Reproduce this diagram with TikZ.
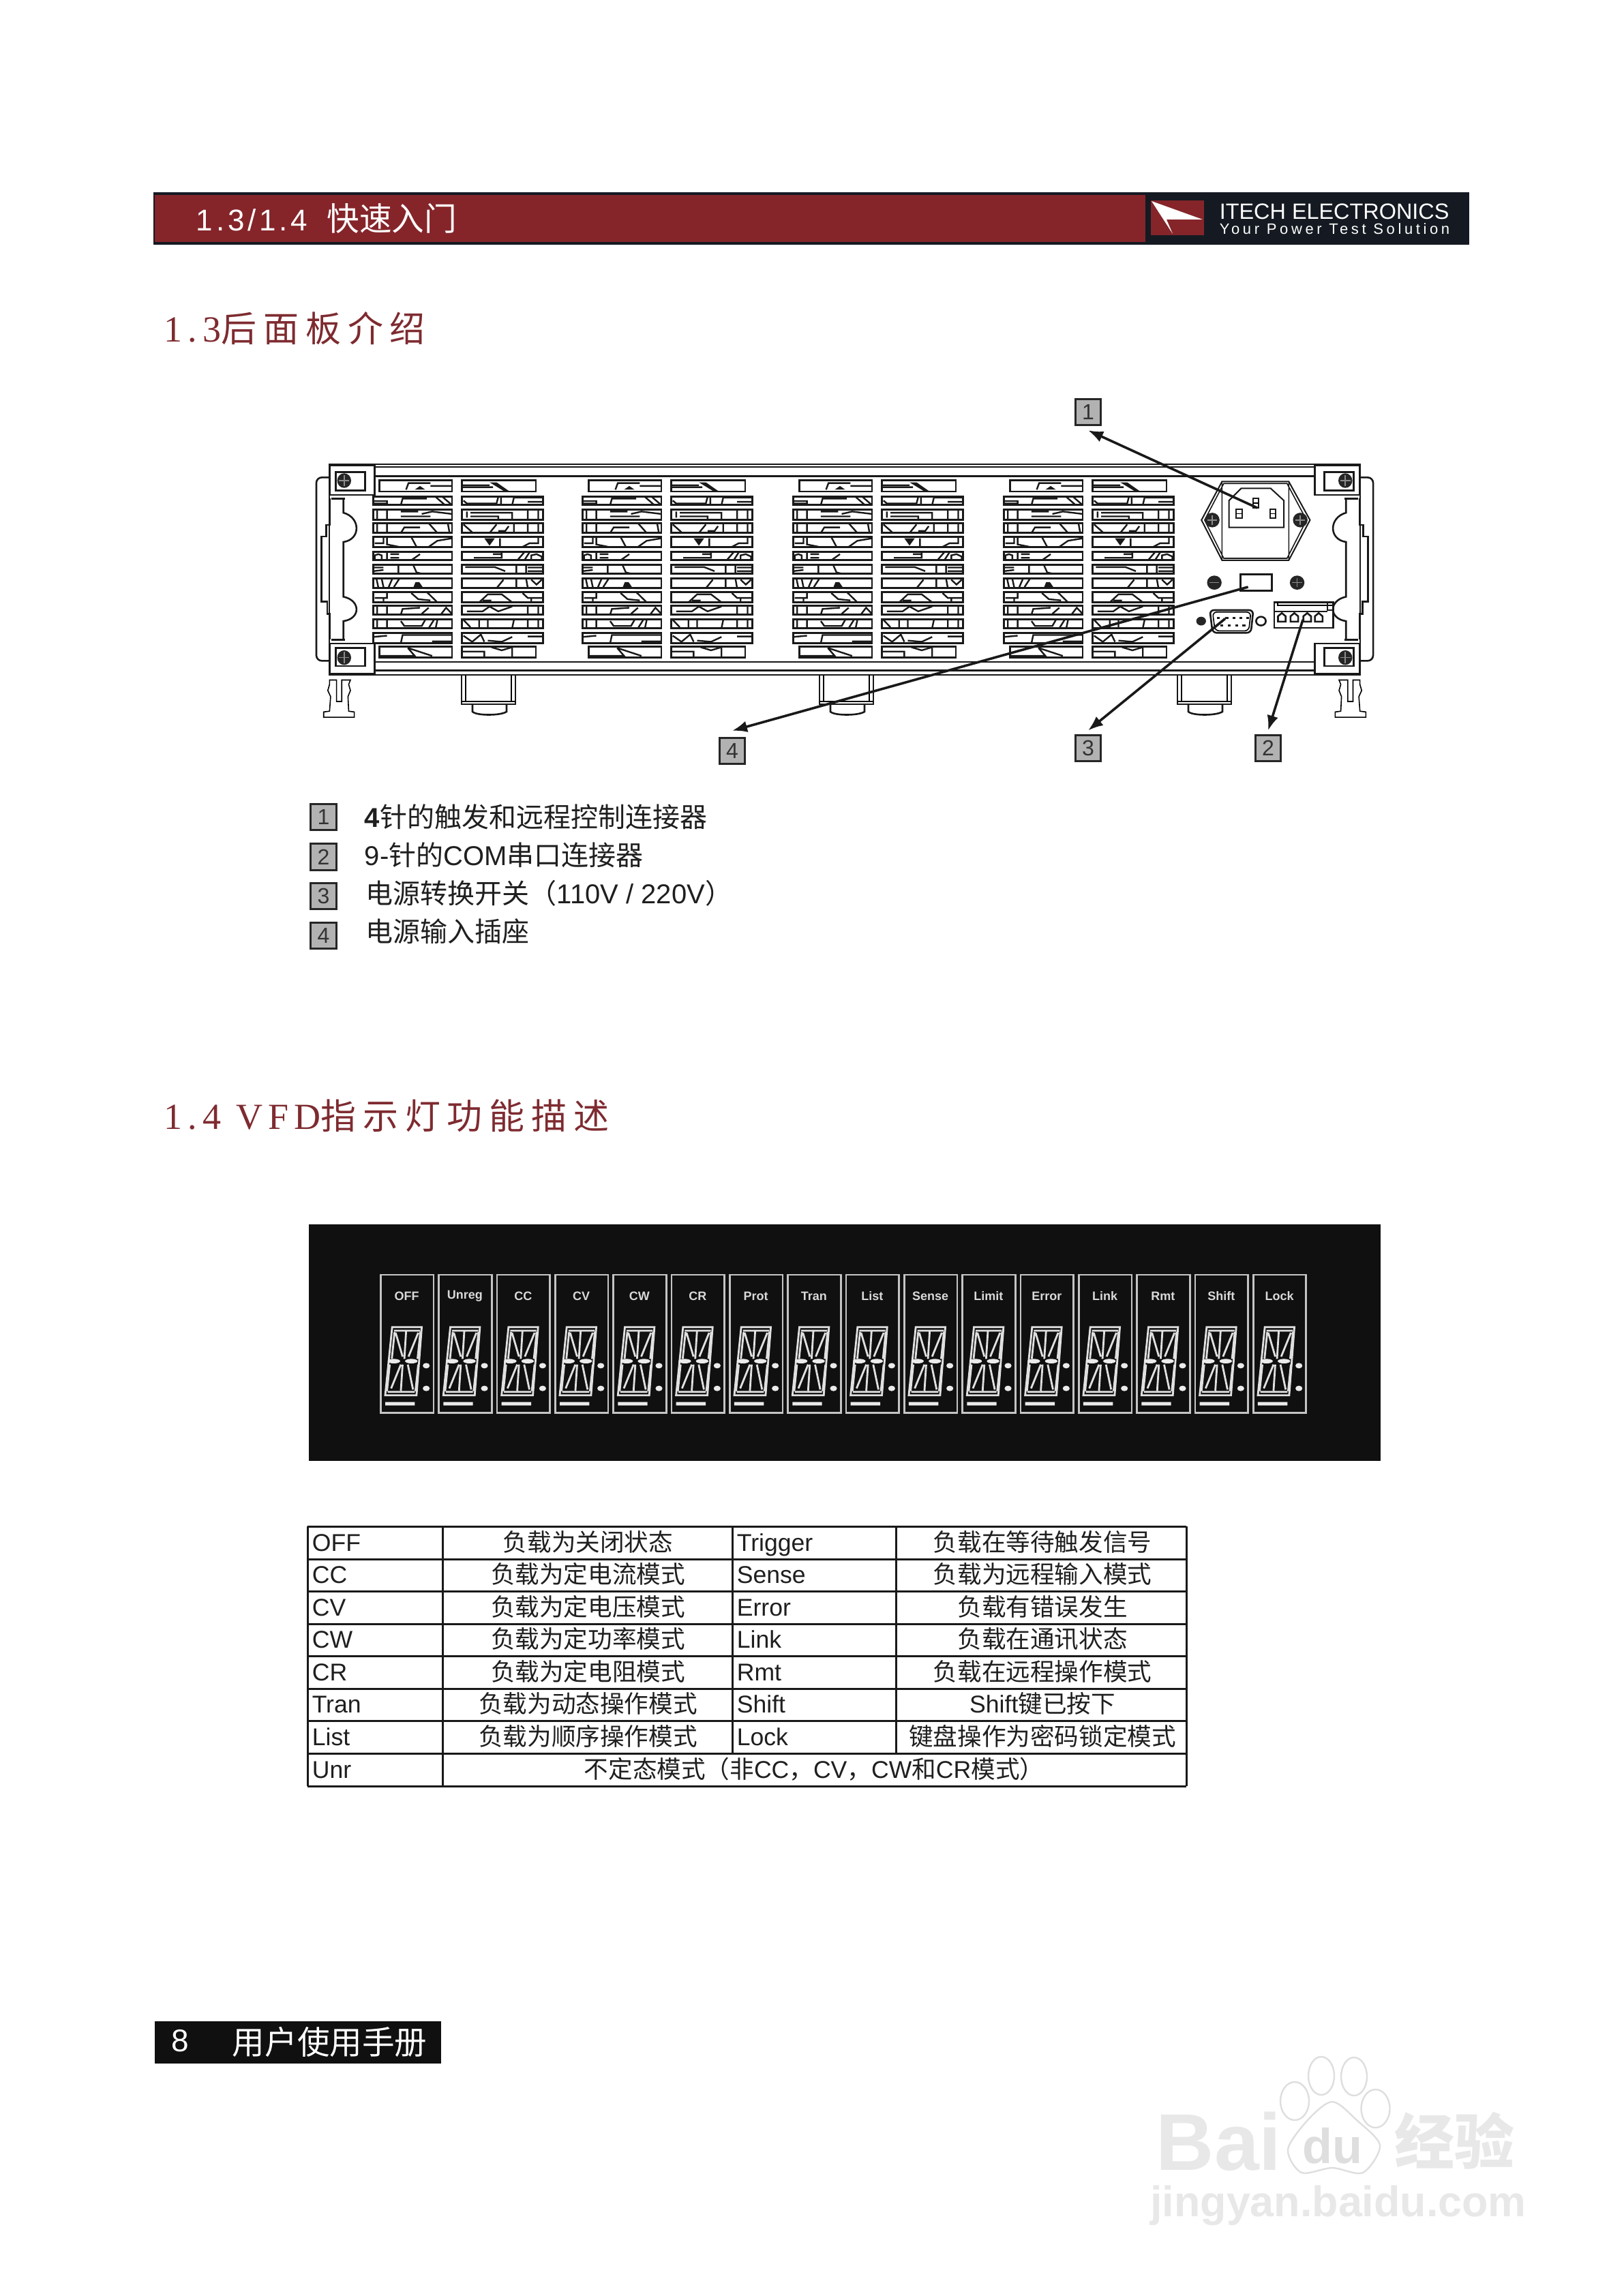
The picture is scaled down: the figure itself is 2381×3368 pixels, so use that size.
\documentclass[tikz,border=0pt]{standalone}
\usepackage{fontspec}
\usetikzlibrary{arrows.meta}
\setmainfont{Liberation Sans}
\newfontfamily\cjk{Noto Sans CJK SC}
\newfontfamily\cjktitle[LetterSpace=19]{Noto Sans CJK SC}
\newfontfamily\sertitle[LetterSpace=15]{Liberation Serif}
\newfontfamily\hdrlat[LetterSpace=11]{Liberation Sans}
\newfontfamily\sloganlat[LetterSpace=21]{Liberation Sans}
\newcommand\zh[1]{{\cjk #1}}
\definecolor{itechred}{HTML}{85252A}
\definecolor{itechdark}{HTML}{151A22}
\definecolor{titlered}{HTML}{7E2B30}
\definecolor{vfdblack}{HTML}{101010}
\definecolor{vfdgray}{HTML}{C4C4C4}
\definecolor{keygray}{HTML}{B2B2B2}
\definecolor{wmgray}{HTML}{E8E8E8}
\definecolor{wmline}{HTML}{DEDEDE}
\tikzset{
  zp/.style={x=0.12755pt,y=-0.08929pt},
  zv/.style={x=0.12755pt,y=-0.08333pt},
  numbox/.style={draw=black!85,fill=keygray,line width=.8pt,inner sep=0pt,minimum width=9.4pt,minimum height=9.6pt,font=\fontsize{8}{9}\selectfont,text=black!80},
  sectitle/.style={anchor=west,inner sep=0pt,text=titlered,font=\fontsize{13.5}{15}\selectfont},
  keytext/.style={anchor=west,inner sep=0pt,text=black!88,font=\fontsize{10}{12}\selectfont},
  cellleft/.style={anchor=west,inner sep=0pt,text=black!88,text height=7pt,text depth=2pt,font=\fontsize{8.9}{10}\selectfont},
  cellmid/.style={inner sep=0pt,text=black!88,text height=7pt,text depth=2pt,font=\fontsize{8.9}{10}\selectfont},
  arr/.style={-{Latex[length=5.5pt,width=4.2pt]},line width=.9pt,black!90},
  thin/.style={line width=.4pt},
  panel/.style={line width=.65pt,black!90},
  blade/.style={line width=.6pt,black!90},
  slat/.style={line width=.7pt,black!90},
  tline/.style={line width=.75pt,black!90},
  segline/.style={line width=.7pt,white!88!black},
  vfdlabel/.style={inner sep=0pt,text=white!85!black,font=\bfseries\fontsize{4.5}{5}\selectfont},
  wmtext/.style={inner sep=0pt,text=wmgray},
  wmpaw/.style={fill=white,draw=wmline,line width=.6pt},
}
\newcommand\fanblades{
  \draw[blade] (305,415)--(312,388)--(375,388) (375,400)--(437,400) (465,397)--(545,397) (465,405)--(555,405)
    (210,462)--(250,462)--(250,472)--(210,472) (290,478)--(295,452)--(365,452) (390,445)--(415,476) (410,445)--(435,476)
    (470,460)--(480,472)--(565,472)--(570,445) (578,445)--(578,478) (610,478)--(615,448)--(698,448) (655,465)--(698,465)
    (222,497)--(222,538) (250,497)--(250,538) (290,505)--(340,505) (290,525)--(375,525) (350,515)--(380,505)--(437,515)
    (480,505)--(480,530) (490,510)--(610,510)--(610,538) (490,525)--(570,525)--(570,538) (655,497)--(655,538) (685,497)--(685,538)
    (222,553)--(222,593) (250,553)--(250,593) (290,593)--(300,570)--(345,570) (370,553)--(395,593) (425,553)--(430,593)
    (470,558)--(495,590) (545,593)--(565,558) (600,565)--(590,585)--(570,585) (615,553)--(615,593) (655,553)--(655,593) (685,553)--(685,593)
    (215,635)--(240,635)--(240,612) (250,612)--(250,640)--(285,650) (320,610)--(335,650) (370,650)--(395,625)--(437,615)
    (575,615)--(575,650) (640,650)--(660,635)--(685,635)--(685,610)
    (215,700)--(215,685)--(225,680)--(235,685)--(235,705) (250,670)--(250,705) (260,680)--(285,680) (260,695)--(285,695) (320,705)--(345,680)
    (500,695)--(580,695)--(580,670) (555,680)--(580,680) (625,705)--(645,672) (645,705)--(660,672) (665,705)--(665,685)--(680,680)--(695,690)--(695,705)
    (210,735)--(240,735) (210,750)--(240,745) (283,723)--(283,760) (325,723)--(335,755)--(350,760)
    (475,733)--(560,733)--(590,750) (622,723)--(622,760) (650,723)--(650,760) (655,735)--(698,735) (655,750)--(698,750)
    (220,782)--(225,815) (235,782)--(240,815) (255,815)--(265,782) (270,815)--(285,782) (360,820)--(437,820)
    (565,820)--(585,785) (622,780)--(622,820) (650,780)--(655,820) (665,785)--(680,805)--(695,785)
    (215,860)--(250,860)--(250,840) (240,878)--(240,860) (320,840)--(340,865)--(375,870) (365,836)--(395,878)
    (515,878)--(540,845)--(580,845)--(610,878) (525,870)--(550,870) (640,840)--(655,860)--(698,860) (665,860)--(665,878)
    (222,892)--(222,928) (250,892)--(250,928) (290,928)--(295,905)--(345,900) (350,925)--(370,900) (405,928)--(420,900)--(437,925)
    (480,915)--(525,915)--(545,895)--(570,915)--(610,895) (655,892)--(655,928) (685,892)--(685,928)
    (222,948)--(222,984) (250,948)--(250,984) (290,955)--(300,975)--(350,975)--(360,950) (370,984)--(385,950) (390,984)--(395,950)
    (470,950)--(490,980) (515,950)--(515,984) (540,950)--(540,984) (610,984)--(615,950) (655,948)--(655,984) (685,948)--(685,984)
    (210,1020)--(250,1015) (290,1045)--(295,1012)--(437,1012) (380,1038)--(437,1038)
    (470,1015)--(495,1040)--(520,1010)--(530,1040) (540,1035)--(580,1040)--(610,1020) (655,1018)--(698,1018)
    (228,1098)--(330,1098)--(310,1065) (310,1065)--(380,1098)
    (465,1080)--(530,1080)--(530,1105) (550,1062)--(580,1075)--(610,1062) (610,1062)--(610,1105);
  \fill[black!90] (330,415)--(345,400)--(360,415)--cycle (545,385)--(565,385)--(600,420)--(585,420)--cycle (530,615)--(560,615)--(545,645)--cycle
    (325,820)--(332,795)--(343,795)--(355,820)--cycle (380,1036)--(437,1036)--(437,1045)--(380,1045)--cycle;
}
\newcommand\vfddigit{
  \draw[segline] (265,500)--(350,500)--(335,800)--(245,800)--cycle (270,516)--(345,516) (252,785)--(330,785)
    (272,522)--(264,640) (346,522)--(338,640) (258,665)--(250,782) (340,665)--(332,782)
    (275,525)--(295,630) (340,525)--(312,630) (305,520)--(300,640)
    (290,665)--(262,770) (310,665)--(325,775) (295,665)--(290,780);
  \fill[white!92!black] (270,650) ellipse [x radius=18,y radius=10] (320,650) ellipse [x radius=18,y radius=10]
    (363,670) circle [x radius=10,y radius=12] (363,770) circle [x radius=10,y radius=12]
    (245,830) rectangle (330,845);
}
\begin{document}
\begin{tikzpicture}[x=0.25pt,y=-0.25pt]
  \useasboundingbox (0,0) rectangle (2381,3368);

  \fill[itechdark] (225,282) rectangle (2155,359);
  \fill[itechred] (227,286) rectangle (1680,355);
  \fill[itechred] (1688,294) rectangle (1766,345);
  \fill[white] (1689,295)--(1764,322)--(1711,322)--(1720,343)--cycle;
  \node[anchor=west,inner sep=0pt,text=white,font=\fontsize{11}{12}\selectfont] (hdrtitle) at (287,320) {{\hdrlat 1.3/1.4}\hspace{7pt}{\cjk\fontsize{11.9}{12}\selectfont 快速入门}};
  \node[anchor=west,inner sep=0pt,text=white,font=\fontsize{8.1}{9}\selectfont] (hdrbrand) at (1788,310) {ITECH ELECTRONICS};
  \node[anchor=west,inner sep=0pt,text=white,font=\fontsize{5.5}{6}\selectfont] (hdrslogan) at (1788,336) {{\sloganlat Your Power Test Solution}};

  \node[sectitle] (sec13) at (240,482) {{\sertitle 1.3}{\cjktitle\fontsize{13}{15}\selectfont 后面板介绍}};

  \foreach \g in {0,307,616,925} {
    \begin{scope}[shift={(440+\g,570)},zp]
      \foreach \a/\b in {443/478,497/538,553/593,610/650,670/705,723/760,780/820,836/878,892/928,948/984,1003/1045} {
        \draw[slat] (210,\a) rectangle (437,\b);
        \draw[slat] (465,\a) rectangle (698,\b);
      }
      \foreach \a/\b in {377/423,1060/1105} {
        \draw[slat] (228,\a) rectangle (437,\b);
        \draw[slat] (465,\a) rectangle (678,\b);
      }
      \fanblades
    \end{scope}
  }

  \draw[panel] (483,681) rectangle (1995,990);
  \draw[panel] (483,685) -- (1995,685) (483,698.5) -- (1995,698.5) (483,971) -- (1995,971) (483,983.5) -- (1995,983.5);

  \foreach \ox/\sc in {440/1,2038/-1} {
    \begin{scope}[shift={(\ox,570)},xscale=\sc,zp]
      \draw[panel,fill=white] (85,315) rectangle (215,437);
      \draw[panel,fill=white] (103,343) rectangle (187,418);
      \fill[black!85] (127,378) ellipse [x radius=20,y radius=30];
      \draw[black!45,thin] (112,378) -- (142,378) (127,355) -- (127,400);
      \draw[panel,fill=white] (85,1047) rectangle (215,1172);
      \draw[panel,fill=white] (103,1065) rectangle (187,1140);
      \fill[black!85] (127,1105) ellipse [x radius=20,y radius=30];
      \draw[black!45,thin] (112,1105) -- (142,1105) (127,1082) -- (127,1128);
      \draw[panel,rounded corners=2pt] (85,365) -- (47,365) -- (47,1118) -- (85,1118);
      \draw[panel] (85,452) -- (85,560) -- (75,560) -- (75,607) -- (62,607) -- (62,875) -- (78,875) -- (78,925) -- (85,925) -- (85,1030);
      \draw[panel] (125,452) -- (125,510) .. controls (175,530) and (175,620) .. (125,630) -- (125,855) .. controls (175,870) and (175,945) .. (125,955) -- (125,1030);
      \draw[panel] (90,452) -- (130,452) (90,1032) -- (130,1032);
      \draw[thin,black] (105,1197) -- (85,1197) -- (85,1215) -- (80,1240) -- (88,1265) -- (85,1325) -- (68,1328) -- (68,1350) -- (156,1350) -- (156,1328) -- (140,1325) -- (138,1265) -- (145,1240) -- (140,1215) -- (145,1197) -- (120,1197) -- (120,1285) -- (105,1285) -- cycle;
    \end{scope}
  }

  \foreach \fx in {714,1239,1764} {
    \draw[panel] (\fx-37,990) rectangle (\fx+42,1033);
    \draw[thin] (\fx-37,1029) -- (\fx+42,1029) (\fx-31,990) -- (\fx-31,1029) (\fx+36,990) -- (\fx+36,1029);
    \draw[panel] (\fx-21,1033) -- (\fx-21,1044) .. controls (\fx-15,1050) and (\fx+20,1050) .. (\fx+29,1044) -- (\fx+29,1033);
  }

  \begin{scope}[shift={(1300,570)},zp]
    \draw[black!90,line width=.5pt] (965,382)--(1157,382)--(1218,540)--(1157,705)--(965,705)--(906,540)--cycle;
    \draw[thin,black!90] (970,390)--(1152,390)--(1208,540)--(1152,697)--(970,697)--(915,540)--cycle (965,385) -- (965,703) (1157,385) -- (1157,703);
    \draw[black!90,line width=.5pt] (1020,410)--(1105,410)--(1143,460)--(1143,570)--(985,570)--(985,460)--cycle;
    \draw[black!90,line width=.5pt] (1005,495) rectangle (1023,533) (1103,495) rectangle (1120,533) (1055,450) rectangle (1070,490);
    \draw[thin] (1005,514) -- (1023,514) (1103,514) -- (1120,514) (1055,470) -- (1070,470);
    \foreach \sx in {937,1190} {
      \fill[black!85] (\sx,540) ellipse [x radius=21,y radius=30];
      \draw[black!45,thin] (\sx-14,540) -- (\sx+14,540) (\sx,520) -- (\sx,560);
    }
    \draw[panel,fill=white] (1018,763) rectangle (1108,830);
    \foreach \sx in {943,1181} {
      \fill[black!85] (\sx,797) ellipse [x radius=21,y radius=29];
      \draw[black!45,thin] (\sx-14,797) -- (\sx+14,797);
    }
    \draw[black!45,thin] (1181,778) -- (1181,816);
    \draw[panel,rounded corners=1.5pt] (930,910) -- (1055,910) -- (1048,1003) -- (938,1003) -- cycle;
    \draw[thin,rounded corners=1.5pt] (938,918) -- (1048,918) -- (1042,995) -- (945,995) -- cycle;
    \foreach \px in {950,975,995,1015,1035} \fill[black!90] (\px,938) rectangle +(8,9);
    \foreach \px in {960,982,1003,1024} \fill[black!90] (\px,968) rectangle +(8,9);
    \fill[black!85] (905,955) ellipse [x radius=14,y radius=18];
    \draw[panel] (1077,955) ellipse [x radius=14,y radius=18];
    \draw[panel] (1115,877) rectangle (1285,983);
    \draw[thin] (1125,877) -- (1125,890) -- (1285,890);
    \draw[panel] (1115,915) -- (1268,915) (1268,877) rectangle (1285,910);
    \foreach \tx in {1137,1173,1210,1243} {
      \draw[panel] (\tx-11,957) -- (\tx-11,935) -- (\tx,922) -- (\tx+11,935) -- (\tx+11,957) -- cycle;
    }
  \end{scope}

  \node[numbox] (lab1) at (1596,604.5) {1};
  \node[numbox] (lab2) at (1860,1097.5) {2};
  \node[numbox] (lab3) at (1596,1097.5) {3};
  \node[numbox] (lab4) at (1074,1101.5) {4};
  \coordinate (src1) at (1844,745);
  \coordinate (src2) at (1911,909);
  \coordinate (src3) at (1797,907.5);
  \coordinate (src4) at (1830.6,861);
  \draw[arr] (src1) -- ([yshift=-1.5pt]lab1.south);
  \draw[arr] (src2) -- ([yshift=1.3pt]lab2.north);
  \draw[arr] (src3) -- ([yshift=1.3pt]lab3.north);
  \draw[arr] (src4) -- ([yshift=2.2pt]lab4.north);

  \node[numbox] (key1) at (474.5,1198.5) {1};
  \node[numbox] (key2) at (474.5,1257) {2};
  \node[numbox] (key3) at (474.5,1314.5) {3};
  \node[numbox] (key4) at (474.5,1372.5) {4};
  \node[keytext] (txt1) at (534,1198) {\textbf{4}\zh{针的触发和远程控制连接器}};
  \node[keytext] (txt2) at (534,1254) {9-\zh{针的}COM\zh{串口连接器}};
  \node[keytext] (txt3) at (536,1310) {\zh{电源转换开关（}110V / 220V\zh{）}};
  \node[keytext] (txt4) at (536,1366) {\zh{电源输入插座}};

  \node[sectitle] (sec14) at (240,1637) {{\sertitle 1.4 VFD}{\cjktitle\fontsize{13}{15}\selectfont 指示灯功能描述}};

  \fill[vfdblack] (453,1796) rectangle (2025,2143);
  \foreach \lbl [count=\i from 0] in {OFF,Unreg,CC,CV,CW,CR,Prot,Tran,List,Sense,Limit,Error,Link,Rmt,Shift,Lock} {
    \begin{scope}[shift={(440+85.33*\i,1780)},zv]
      \draw[vfdgray,line width=.7pt] (232,270) rectangle (384,877);
      \node[vfdlabel] (vfd\i) at (307,363) {\lbl};
      \vfddigit
    \end{scope}
  }

  \foreach \a/\b/\c/\d [count=\i from 0] in {OFF/负载为关闭状态/Trigger/负载在等待触发信号,CC/负载为定电流模式/Sense/负载为远程输入模式,CV/负载为定电压模式/Error/负载有错误发生,CW/负载为定功率模式/Link/负载在通讯状态,CR/负载为定电阻模式/Rmt/负载在远程操作模式,Tran/负载为动态操作模式/Shift/{\normalfont Shift}键已按下,List/负载为顺序操作模式/Lock/键盘操作为密码锁定模式} {
    \node[cellleft] (ca\i) at (457,2265+47.5*\i) {\a};
    \node[cellmid] (cb\i) at (862.5,2265+47.5*\i) {\zh{\b}};
    \node[cellleft] (cc\i) at (1080,2265+47.5*\i) {\c};
    \node[cellmid] (cd\i) at (1529,2265+47.5*\i) {\zh{\d}};
  }
  \node[cellleft] (ca7) at (457,2598) {Unr};
  \node[cellmid] (cb7) at (1194,2598) {\zh{不定态模式（非}CC\zh{，}CV\zh{，}CW\zh{和}CR\zh{模式）}};
  \foreach \ty in {2239,2287,2334,2382,2429,2477,2524,2572,2620} \draw[tline] (451,\ty) -- (1740,\ty);
  \foreach \tx in {451,649,1740} \draw[tline] (\tx,2239) -- (\tx,2620);
  \foreach \tx in {1074,1314} \draw[tline] (\tx,2239) -- (\tx,2572);

  \fill[vfdblack] (227,2965) rectangle (647,3027);
  \node[inner sep=0pt,text=white,font=\fontsize{11.5}{13}\selectfont] (pgnum) at (264,2993.5) {8};
  \node[anchor=west,inner sep=0pt,text=white,font=\fontsize{11.9}{13}\selectfont] (pgtitle) at (340,2995) {\zh{用户使用手册}};

  \node[wmtext,anchor=base west,font=\bfseries\fontsize{29.5}{34}\selectfont] (wmbai) at (1695,3183) {Bai};
  \draw[wmpaw] (1938,3045) ellipse [x radius=19,y radius=28];
  \draw[wmpaw] (1986,3046) ellipse [x radius=19,y radius=28];
  \draw[wmpaw] (1899,3082) ellipse [x radius=21,y radius=28];
  \draw[wmpaw] (2017.5,3093) ellipse [x radius=21,y radius=28];
  \draw[wmpaw] plot[smooth cycle] coordinates {(1954,3083) (1990,3110) (2024,3147) (1999,3187) (1954,3180) (1909,3187) (1889,3153) (1918,3110)};
  \node[wmtext,text=wmline,font=\bfseries\fontsize{18}{20}\selectfont] (wmdu) at (1954,3148) {du};
  \node[wmtext,font=\fontsize{22}{24}\selectfont] (wmjy) at (2133,3140) {{\cjk\bfseries 经验}};
  \node[wmtext,font=\bfseries\fontsize{15.7}{18}\selectfont] (wmurl) at (1963,3235) {jingyan.baidu.com};
\end{tikzpicture}
\end{document}
